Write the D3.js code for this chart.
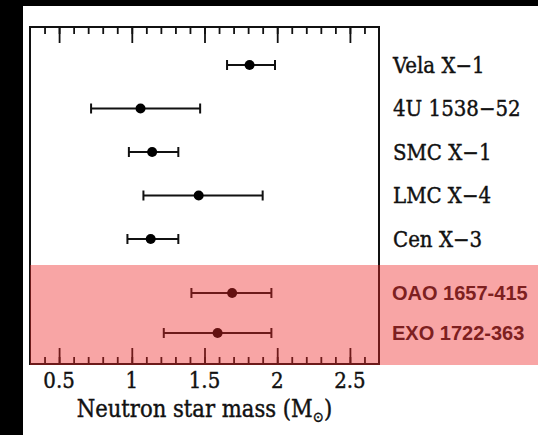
<!DOCTYPE html>
<html>
<head>
<meta charset="utf-8">
<script src="https://cdn.jsdelivr.net/npm/d3@7"></script>
<style>
  html, body { margin: 0; padding: 0; background: #000; }
  svg { display: block; }
</style>
</head>
<body>
<svg width="538" height="435"></svg>
<script>
// sources, top to bottom
var sources = ["Vela X\u22121", "4U 1538\u221252", "SMC X\u22121", "LMC X\u22124", "Cen X\u22123"];
var newSources = ["OAO 1657-415", "EXO 1722-363"];
// mass (solar masses), lower and upper end of the error bar
var mass  = [1.81, 1.06, 1.14, 1.46, 1.13];
var lower = [1.655, 0.72, 0.98, 1.08, 0.97];
var upper = [1.985, 1.47, 1.32, 1.90, 1.32];
var newMass  = [1.69, 1.59];
var newLower = [1.41, 1.22];
var newUpper = [1.96, 1.96];
var majorTicks = [0.5, 1, 1.5, 2, 2.5];
var minorTicks = d3.range(4, 27).map(function(d) { return d / 10; });

var svg = d3.select("svg"),
    width = +svg.attr("width"),
    height = +svg.attr("height");

var frameL = 30, frameR = 379, frameT = 27, frameB = 364;
var serif = "DejaVu Serif Condensed, DejaVu Serif, serif";

svg.append("rect")
    .attr("x", 23).attr("y", 6)
    .attr("width", width - 23).attr("height", height - 6)
    .attr("fill", "#fff");

var x = d3.scaleLinear().domain([0.3, 2.7]).range([frameL, frameR]);
var y = d3.scalePoint().domain(sources).range([65, 239]);
var y2 = d3.scalePoint().domain(newSources).range([293, 333]);

var rows = sources.map(function(s, i) {
    return { name: s, m: mass[i], lo: lower[i], hi: upper[i], y: y(s) };
}).concat(newSources.map(function(s, i) {
    return { name: s, m: newMass[i], lo: newLower[i], hi: newUpper[i], y: y2(s) };
}));

// frame
svg.append("rect")
    .attr("x", frameL).attr("y", frameT)
    .attr("width", frameR - frameL).attr("height", frameB - frameT)
    .attr("fill", "none").attr("stroke", "#111").attr("stroke-width", 2);

function tickAxis(axis, ticks, size, ypos) {
    var g = svg.append("g")
        .attr("transform", "translate(0," + ypos + ")")
        .call(axis(x).tickValues(ticks).tickSize(size).tickFormat(""));
    g.select(".domain").remove();
    g.selectAll("line").attr("stroke", "#111").attr("stroke-width", 1.8);
    return g;
}
tickAxis(d3.axisTop, minorTicks, -7, frameT);
tickAxis(d3.axisTop, majorTicks, -16, frameT);
tickAxis(d3.axisBottom, minorTicks, -7, frameB);
tickAxis(d3.axisBottom, majorTicks, -16, frameB);

// tick labels
svg.append("g").selectAll("text")
    .data(majorTicks)
    .enter()
    .append("text")
      .attr("x", function(d) { return x(d); })
      .attr("y", 388)
      .attr("text-anchor", "middle")
      .attr("font-family", serif)
      .attr("font-size", 22)
      .attr("fill", "#111")
      .attr("stroke", "#111").attr("stroke-width", 0.4)
      .text(function(d) { return d; });

var title = svg.append("text")
    .attr("x", x(1.5))
    .attr("y", 417)
    .attr("text-anchor", "middle")
    .attr("font-family", serif)
    .attr("font-size", 23.5)
    .attr("fill", "#111")
    .attr("stroke", "#111").attr("stroke-width", 0.4);
title.append("tspan").text("Neutron star mass (M");
title.append("tspan").attr("dy", 5).attr("font-size", 15).text("\u2299");
title.append("tspan").attr("dy", -5).text(")");

// error bars
var bars = svg.append("g").selectAll("g")
    .data(rows)
    .enter()
    .append("g");
bars.append("line")
    .attr("x1", function(d) { return x(d.lo); })
    .attr("x2", function(d) { return x(d.hi); })
    .attr("y1", function(d) { return d.y; })
    .attr("y2", function(d) { return d.y; })
    .attr("stroke", "#111").attr("stroke-width", 2);
bars.selectAll(".cap")
    .data(function(d) { return [{ v: d.lo, y: d.y }, { v: d.hi, y: d.y }]; })
    .enter()
    .append("line")
      .attr("x1", function(d) { return x(d.v); })
      .attr("x2", function(d) { return x(d.v); })
      .attr("y1", function(d) { return d.y - 5; })
      .attr("y2", function(d) { return d.y + 5; })
      .attr("stroke", "#111").attr("stroke-width", 2);
bars.append("circle")
    .attr("cx", function(d) { return x(d.m); })
    .attr("cy", function(d) { return d.y; })
    .attr("r", 5)
    .attr("fill", "#000");

// labels
svg.append("g").selectAll("text")
    .data(sources)
    .enter()
    .append("text")
      .attr("x", 393)
      .attr("y", function(d) { return y(d); })
      .attr("dy", "0.36em")
      .attr("font-family", serif)
      .attr("font-size", 22)
      .attr("fill", "#111")
      .attr("stroke", "#111").attr("stroke-width", 0.4)
      .text(function(d) { return d; });

// highlight band for the new sources
svg.append("rect")
    .attr("x", frameL).attr("y", 265)
    .attr("width", width - frameL).attr("height", frameB + 1 - 265)
    .attr("fill", "rgb(238,40,40)")
    .attr("opacity", 0.42);

svg.append("g").selectAll("text")
    .data(newSources)
    .enter()
    .append("text")
      .attr("x", 392)
      .attr("y", function(d) { return y2(d); })
      .attr("dy", "0.36em")
      .attr("font-family", "Liberation Sans, Arial, sans-serif")
      .attr("font-weight", "bold")
      .attr("font-size", 20)
      .attr("fill", "#7d2020")
      .text(function(d) { return d; });
</script>
</body>
</html>
